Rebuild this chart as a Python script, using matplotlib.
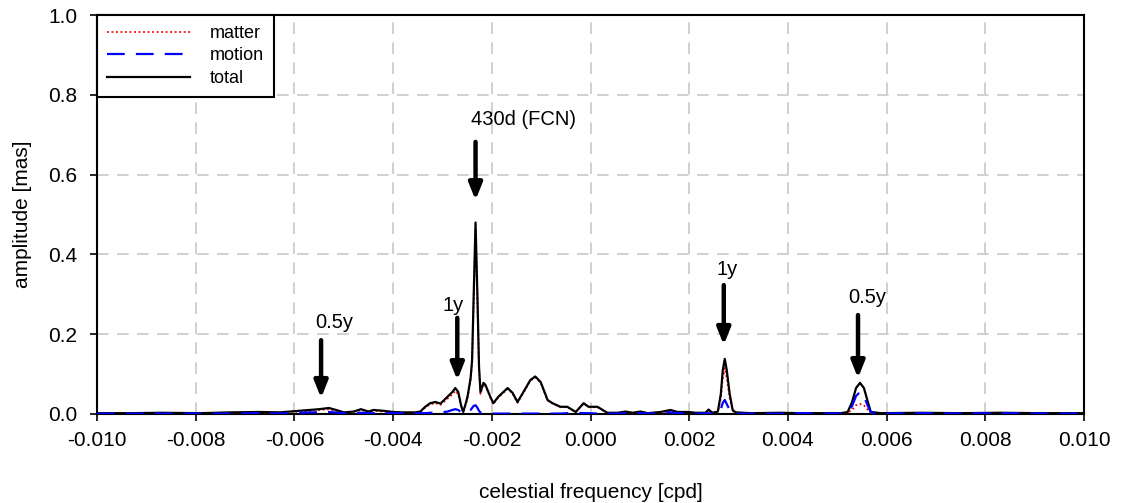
import matplotlib
matplotlib.use("Agg")
import matplotlib.pyplot as plt

plt.rcParams['font.family'] = ['Liberation Sans', 'DejaVu Sans']

freq = [-0.0100, -0.0093, -0.0087, -0.0079, -0.0073, -0.0067, -0.0063, -0.0061, -0.0059, -0.0057,
        -0.0055, -0.0053, -0.0051, -0.0050, -0.0048, -0.00465, -0.0045, -0.0044, -0.0042, -0.0040,
        -0.0038, -0.00355, -0.00345, -0.00335, -0.00325, -0.00314, -0.00304, -0.00290, -0.00280, -0.00274,
        -0.00268, -0.00262, -0.00258, -0.00252, -0.00249, -0.00243, -0.00240, -0.00237, -0.00233, -0.00229,
        -0.00226, -0.00223, -0.00217, -0.00213, -0.00203, -0.00197, -0.00187, -0.00168, -0.00158, -0.00148,
        -0.00136, -0.00122, -0.00112, -0.00101, -0.00087, -0.00077, -0.00061, -0.00047, -0.00030, -0.00014,
        -0.00004, 0.00014, 0.00034, 0.00055, 0.00071, 0.00085, 0.00101, 0.00116, 0.00142, 0.00162,
        0.00176, 0.00197, 0.00213, 0.00233, 0.00239, 0.00247, 0.00258, 0.00264, 0.00268, 0.00272,
        0.00276, 0.00282, 0.00288, 0.00294, 0.00325, 0.00385, 0.00426, 0.00467, 0.00507, 0.00521,
        0.00530, 0.00538, 0.00546, 0.00554, 0.00562, 0.00568, 0.00588, 0.0067, 0.0075, 0.0083,
        0.0091, 0.0100]

total = [0.002, 0.002, 0.003, 0.002, 0.004, 0.005, 0.004, 0.006, 0.008, 0.010,
         0.012, 0.015, 0.008, 0.004, 0.006, 0.012, 0.006, 0.010, 0.008, 0.005,
         0.004, 0.004, 0.006, 0.018, 0.027, 0.030, 0.026, 0.043, 0.055, 0.065,
         0.055, 0.020, 0.005, 0.030, 0.045, 0.090, 0.135, 0.285, 0.480, 0.285,
         0.120, 0.055, 0.078, 0.073, 0.043, 0.027, 0.043, 0.065, 0.053, 0.030,
         0.055, 0.085, 0.094, 0.080, 0.035, 0.027, 0.018, 0.018, 0.005, 0.027,
         0.018, 0.018, 0.003, 0.003, 0.006, 0.003, 0.006, 0.002, 0.005, 0.010,
         0.005, 0.005, 0.003, 0.003, 0.011, 0.003, 0.006, 0.050, 0.110, 0.138,
         0.110, 0.050, 0.010, 0.004, 0.002, 0.003, 0.002, 0.002, 0.002, 0.005,
         0.030, 0.065, 0.078, 0.065, 0.030, 0.005, 0.002, 0.003, 0.002, 0.003,
         0.002, 0.002]

matter = [0.002, 0.002, 0.002, 0.002, 0.003, 0.004, 0.003, 0.005, 0.006, 0.008,
          0.010, 0.012, 0.006, 0.003, 0.005, 0.010, 0.005, 0.008, 0.006, 0.004,
          0.003, 0.003, 0.005, 0.016, 0.024, 0.027, 0.023, 0.038, 0.049, 0.058,
          0.049, 0.018, 0.004, 0.028, 0.042, 0.085, 0.128, 0.275, 0.465, 0.275,
          0.113, 0.050, 0.075, 0.070, 0.041, 0.025, 0.041, 0.063, 0.051, 0.028,
          0.053, 0.083, 0.092, 0.078, 0.034, 0.026, 0.017, 0.017, 0.004, 0.026,
          0.017, 0.017, 0.003, 0.002, 0.005, 0.002, 0.005, 0.002, 0.004, 0.008,
          0.004, 0.004, 0.002, 0.002, 0.009, 0.002, 0.005, 0.040, 0.090, 0.115,
          0.090, 0.040, 0.008, 0.003, 0.002, 0.002, 0.002, 0.002, 0.002, 0.003,
          0.010, 0.022, 0.025, 0.022, 0.010, 0.003, 0.002, 0.002, 0.002, 0.003,
          0.002, 0.002]

motion = [0.001, 0.001, 0.001, 0.001, 0.001, 0.002, 0.001, 0.002, 0.003, 0.004,
          0.004, 0.005, 0.003, 0.002, 0.002, 0.003, 0.002, 0.002, 0.002, 0.002,
          0.002, 0.002, 0.002, 0.002, 0.003, 0.003, 0.004, 0.006, 0.010, 0.012,
          0.010, 0.004, 0.002, 0.003, 0.005, 0.010, 0.015, 0.020, 0.022, 0.015,
          0.008, 0.003, 0.002, 0.002, 0.001, 0.001, 0.001, 0.001, 0.001, 0.001,
          0.001, 0.001, 0.001, 0.001, 0.001, 0.001, 0.001, 0.002, 0.003, 0.002,
          0.002, 0.001, 0.001, 0.001, 0.002, 0.001, 0.002, 0.001, 0.002, 0.004,
          0.002, 0.003, 0.001, 0.001, 0.002, 0.001, 0.004, 0.012, 0.028, 0.035,
          0.025, 0.010, 0.003, 0.001, 0.001, 0.001, 0.002, 0.001, 0.001, 0.004,
          0.020, 0.045, 0.055, 0.045, 0.020, 0.004, 0.001, 0.002, 0.001, 0.002,
          0.001, 0.001]

x_ticks = [-0.010, -0.008, -0.006, -0.004, -0.002, 0.000, 0.002, 0.004, 0.006, 0.008, 0.010]
y_ticks = [0.0, 0.2, 0.4, 0.6, 0.8, 1.0]

# annotations: label, x, arrow tail y, arrow head y, text x, text y
ann_labels = ['430d (FCN)', '1y', '0.5y', '1y', '0.5y']
ann_x = [-0.00233, -0.00270, -0.00546, 0.00270, 0.00542]
ann_tail = [0.682, 0.241, 0.185, 0.323, 0.248]
ann_head = [0.536, 0.085, 0.040, 0.173, 0.090]
ann_tx = [-0.00135, -0.00278, -0.00520, 0.00276, 0.00560]
ann_ty = [0.737, 0.271, 0.230, 0.361, 0.291]

fig = plt.figure(figsize=(11.23, 5.03), dpi=100)
ax = fig.add_axes([0.0864, 0.177, 0.8789, 0.793])

ax.plot(freq, matter, color='red', linestyle=(0, (1, 1.5)), linewidth=1.3, label='matter', zorder=3)
ax.plot(freq, motion, color='blue', linestyle=(0, (8, 5)), linewidth=1.6, label='motion', zorder=4)
ax.plot(freq, total, color='black', linewidth=1.6, label='total', zorder=3.5)

for lab, x, yt, yh, tx, ty in zip(ann_labels, ann_x, ann_tail, ann_head, ann_tx, ann_ty):
    ax.annotate('', xy=(x, yh), xytext=(x, yt),
                arrowprops=dict(arrowstyle='-|>,head_length=1.0,head_width=0.4',
                                color='black', lw=3.2, shrinkA=0, shrinkB=0), zorder=6)
    ax.text(tx, ty, lab, ha='center', va='center', fontsize=14.5, zorder=6)

ax.set_xlim(-0.010, 0.010)
ax.set_ylim(0.0, 1.0)
ax.set_xticks(x_ticks)
ax.set_xticklabels(['%.3f' % v for v in x_ticks])
ax.set_yticks(y_ticks)
ax.set_yticklabels(['%.1f' % v for v in y_ticks])
ax.tick_params(axis='both', labelsize=15, direction='out', length=5, width=1.2)
ax.tick_params(axis='x', pad=7)
ax.tick_params(axis='y', pad=9)
ax.grid(True, color='#c8c8c8', linestyle=(0, (7, 5)), linewidth=1.2, zorder=0)
ax.set_axisbelow(True)
for s in ax.spines.values():
    s.set_linewidth(1.5)

ax.set_xlabel('celestial frequency [cpd]', fontsize=15, labelpad=24)
ax.set_ylabel('amplitude [mas]', fontsize=15, labelpad=12)

leg = ax.legend(loc='upper left', bbox_to_anchor=(0, 1), borderaxespad=0, fontsize=13,
                frameon=True, fancybox=False, edgecolor='black', handlelength=4.6,
                labelspacing=0.3, borderpad=0.55, handletextpad=1.1)
leg.get_frame().set_linewidth(1.5)
leg.get_frame().set_alpha(1)

fig.savefig('out.png', dpi=100)
